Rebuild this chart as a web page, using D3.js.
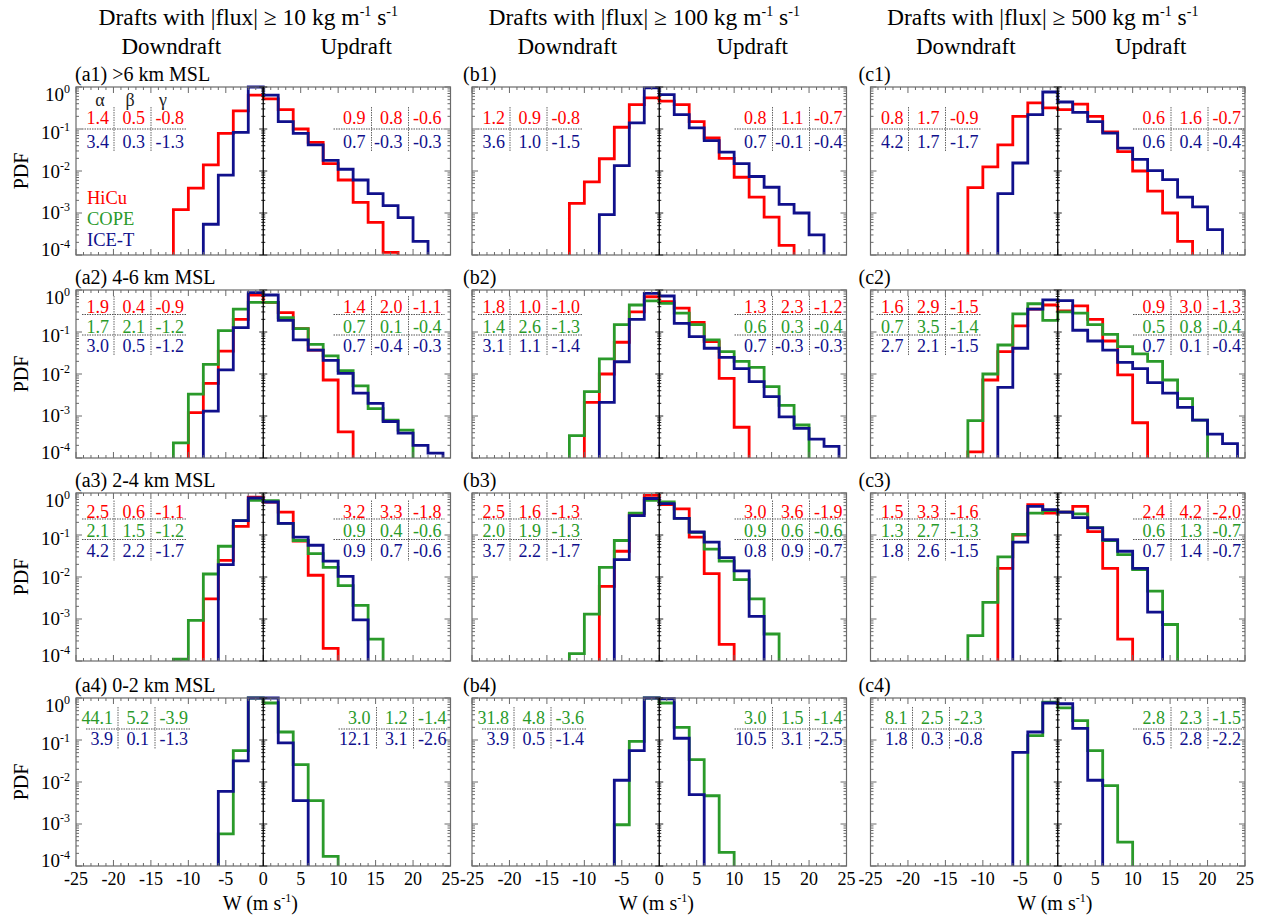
<!DOCTYPE html>
<html><head><meta charset="utf-8">
<script src="https://cdn.jsdelivr.net/npm/d3@7"></script>
<style>body{margin:0;background:#fff} svg{display:block} text{font-family:"Liberation Serif","Times New Roman",serif}</style>
</head><body><svg id="chart" width="1268" height="915" font-family="Liberation Serif, Times New Roman, serif"></svg>
<script>
// ---------------- DATA ----------------
const campaigns = ["HiCu", "COPE", "ICE-T"];
const fluxThresholds = ["10", "100", "500"];
const columnLetters = ["a", "b", "c"];
const altitudeLayers = [">6 km MSL", "4-6 km MSL", "2-4 km MSL", "0-2 km MSL"];
const xTickValues = [-25, -20, -15, -10, -5, 0, 5, 10, 15, 20, 25];
const yTickExponents = [0, -1, -2, -3, -4];
const statHeaders = ["α", "β", "γ"];
const binWidth = 2;

// PDF values. "dn": bins from the outermost downdraft bin up to [-2,0];
// "up": bins from [0,2] outward.
const a1_HiCu_dn = [1.2e-3, 3.9e-3, 1.4e-2, 7.9e-2, 0.27, 0.64];
const a1_HiCu_up = [0.52, 0.29, 0.10, 0.048, 0.015, 0.0061, 0.0018, 6e-4, 1.15e-4];
const a1_ICET_dn = [5.4e-4, 8e-3, 0.083, 1.0];
const a1_ICET_up = [0.64, 0.15, 0.079, 0.042, 0.018, 0.011, 0.0061, 0.0029, 0.0015, 7.8e-4, 2.1e-4];

const b1_HiCu_dn = [1.7e-3, 5.5e-3, 0.0196, 0.11, 0.38, 0.55];
const b1_HiCu_up = [0.46, 0.38, 0.15, 0.061, 0.020, 0.0071, 0.0024, 8e-4, 1.7e-4];
const b1_ICET_dn = [9.1e-4, 0.0134, 0.14, 0.95];
const b1_ICET_up = [0.66, 0.22, 0.106, 0.053, 0.028, 0.015, 0.0074, 0.0041, 0.0016, 0.001, 3e-4];

const c1_HiCu_dn = [4e-3, 0.0125, 0.042, 0.20, 0.42, 0.32];
const c1_HiCu_up = [0.29, 0.39, 0.20, 0.085, 0.029, 0.010, 0.0033, 0.001, 2.1e-4];
const c1_ICET_dn = [2.9e-3, 0.0155, 0.22, 0.76];
const c1_ICET_up = [0.44, 0.25, 0.15, 0.080, 0.035, 0.019, 0.0102, 0.0062, 0.0024, 0.0014, 4e-4];

const a2_HiCu_dn = [1.2e-3, 6e-3, 0.035, 0.20, 0.76];
const a2_HiCu_up = [0.51, 0.29, 0.12, 0.037, 0.0072, 4.2e-4];
const a2_COPE_dn = [2.3e-4, 3.3e-3, 0.017, 0.108, 0.35, 0.51];
const a2_COPE_up = [0.51, 0.22, 0.12, 0.051, 0.027, 0.012, 0.0052, 0.0015, 8e-4, 4.6e-4];
const a2_ICET_dn = [1.3e-3, 0.0125, 0.127, 0.87];
const a2_ICET_up = [0.76, 0.19, 0.065, 0.037, 0.021, 0.0104, 0.0035, 0.002, 7.4e-4, 3.9e-4, 2e-4, 1.3e-4];

const b2_HiCu_dn = [2.1e-3, 0.01, 0.057, 0.30, 0.69];
const b2_HiCu_up = [0.53, 0.37, 0.17, 0.059, 0.0079, 5.4e-4];
const b2_COPE_dn = [3.4e-4, 3.8e-3, 0.023, 0.15, 0.44, 0.55];
const b2_COPE_up = [0.48, 0.28, 0.15, 0.065, 0.034, 0.020, 0.0144, 5e-3, 1.8e-3, 6.1e-4];
const b2_ICET_dn = [2.1e-3, 0.0196, 0.20, 0.83];
const b2_ICET_up = [0.72, 0.16, 0.078, 0.041, 0.025, 0.0135, 0.0066, 0.0029, 9.5e-4, 5.1e-4, 2.8e-4, 1.9e-4];

const c2_HiCu_dn = [1.4e-4, 7.2e-3, 0.034, 0.14, 0.35, 0.44];
const c2_HiCu_up = [0.32, 0.42, 0.20, 0.061, 0.0095, 6.9e-4];
const c2_COPE_dn = [7.8e-4, 0.01, 0.049, 0.27, 0.47, 0.19];
const c2_COPE_up = [0.30, 0.28, 0.15, 0.088, 0.045, 0.030, 0.020, 0.0072, 0.0026, 8e-4];
const c2_ICET_dn = [4.8e-3, 0.041, 0.35, 0.58];
const c2_ICET_up = [0.56, 0.11, 0.061, 0.037, 0.019, 0.0135, 0.0062, 0.0035, 0.0016, 8e-4, 3.7e-4, 2.2e-4];

const a3_HiCu_dn = [3e-3, 0.025, 0.16, 0.80];
const a3_HiCu_up = [0.61, 0.35, 0.072, 0.011, 2e-4];
const a3_COPE_dn = [1.1e-4, 9.3e-4, 0.0118, 0.054, 0.22, 0.67];
const a3_COPE_up = [0.66, 0.19, 0.074, 0.036, 0.017, 0.0062, 0.0021, 3.3e-4];
const a3_ICET_dn = [0.0197, 0.22, 0.76];
const a3_ICET_up = [0.61, 0.19, 0.089, 0.057, 0.024, 0.0104, 9.5e-4];

const b3_HiCu_dn = [6e-3, 0.041, 0.32, 0.88];
const b3_HiCu_up = [0.53, 0.42, 0.089, 0.012, 2.5e-4];
const b3_COPE_dn = [1.5e-4, 1.3e-3, 0.017, 0.074, 0.33, 0.67];
const b3_COPE_up = [0.61, 0.25, 0.115, 0.046, 0.024, 0.0087, 0.003, 4.4e-4];
const b3_ICET_dn = [0.026, 0.29, 0.74];
const b3_ICET_up = [0.56, 0.25, 0.118, 0.068, 0.029, 0.014, 1.15e-3];

const c3_HiCu_dn = [0.016, 0.10, 0.53, 0.33];
const c3_HiCu_up = [0.35, 0.48, 0.12, 0.016, 3.3e-4];
const c3_COPE_dn = [4e-4, 2.5e-3, 0.030, 0.104, 0.33, 0.38];
const c3_COPE_up = [0.35, 0.32, 0.15, 0.074, 0.034, 0.015, 4.6e-3, 7.4e-4];
const c3_ICET_dn = [0.068, 0.48, 0.40];
const c3_ICET_up = [0.35, 0.26, 0.148, 0.077, 0.041, 0.016, 1.45e-3];

const a4_COPE_dn = [5.8e-4, 0.056, 1.0];
const a4_COPE_up = [0.76, 0.155, 0.026, 3.6e-3, 1.7e-4];
const a4_ICET_dn = [6e-3, 0.032, 1.0];
const a4_ICET_up = [1.0, 0.085, 3.6e-3];

const b4_COPE_dn = [9.6e-4, 0.093, 1.0];
const b4_COPE_up = [0.76, 0.20, 0.034, 4.7e-3, 2.1e-4];
const b4_ICET_dn = [0.011, 0.056, 1.0];
const b4_ICET_up = [0.96, 0.11, 5e-3];

const c4_COPE_dn = [0.127, 0.80];
const c4_COPE_up = [0.58, 0.29, 0.056, 8.2e-3, 3.7e-4];
const c4_ICET_dn = [0.051, 0.155, 0.76];
const c4_ICET_up = [0.73, 0.19, 0.011];

// Fit statistics (alpha, beta, gamma) per campaign: [HiCu, COPE, ICE-T]
const a1_stats_dn = [["1.4","0.5","-0.8"], null, ["3.4","0.3","-1.3"]];
const a1_stats_up = [["0.9","0.8","-0.6"], null, ["0.7","-0.3","-0.3"]];
const b1_stats_dn = [["1.2","0.9","-0.8"], null, ["3.6","1.0","-1.5"]];
const b1_stats_up = [["0.8","1.1","-0.7"], null, ["0.7","-0.1","-0.4"]];
const c1_stats_dn = [["0.8","1.7","-0.9"], null, ["4.2","1.7","-1.7"]];
const c1_stats_up = [["0.6","1.6","-0.7"], null, ["0.6","0.4","-0.4"]];
const a2_stats_dn = [["1.9","0.4","-0.9"], ["1.7","2.1","-1.2"], ["3.0","0.5","-1.2"]];
const a2_stats_up = [["1.4","2.0","-1.1"], ["0.7","0.1","-0.4"], ["0.7","-0.4","-0.3"]];
const b2_stats_dn = [["1.8","1.0","-1.0"], ["1.4","2.6","-1.3"], ["3.1","1.1","-1.4"]];
const b2_stats_up = [["1.3","2.3","-1.2"], ["0.6","0.3","-0.4"], ["0.7","-0.3","-0.3"]];
const c2_stats_dn = [["1.6","2.9","-1.5"], ["0.7","3.5","-1.4"], ["2.7","2.1","-1.5"]];
const c2_stats_up = [["0.9","3.0","-1.3"], ["0.5","0.8","-0.4"], ["0.7","0.1","-0.4"]];
const a3_stats_dn = [["2.5","0.6","-1.1"], ["2.1","1.5","-1.2"], ["4.2","2.2","-1.7"]];
const a3_stats_up = [["3.2","3.3","-1.8"], ["0.9","0.4","-0.6"], ["0.9","0.7","-0.6"]];
const b3_stats_dn = [["2.5","1.6","-1.3"], ["2.0","1.9","-1.3"], ["3.7","2.2","-1.7"]];
const b3_stats_up = [["3.0","3.6","-1.9"], ["0.9","0.6","-0.6"], ["0.8","0.9","-0.7"]];
const c3_stats_dn = [["1.5","3.3","-1.6"], ["1.3","2.7","-1.3"], ["1.8","2.6","-1.5"]];
const c3_stats_up = [["2.4","4.2","-2.0"], ["0.6","1.3","-0.7"], ["0.7","1.4","-0.7"]];
const a4_stats_dn = [null, ["44.1","5.2","-3.9"], ["3.9","0.1","-1.3"]];
const a4_stats_up = [null, ["3.0","1.2","-1.4"], ["12.1","3.1","-2.6"]];
const b4_stats_dn = [null, ["31.8","4.8","-3.6"], ["3.9","0.5","-1.4"]];
const b4_stats_up = [null, ["3.0","1.5","-1.4"], ["10.5","3.1","-2.5"]];
const c4_stats_dn = [null, ["8.1","2.5","-2.3"], ["1.8","0.3","-0.8"]];
const c4_stats_up = [null, ["2.8","2.3","-1.5"], ["6.5","2.8","-2.2"]];

// assemble per-panel structures from the named arrays
const pdfByPanel = {
  a1: [[a1_HiCu_dn, a1_HiCu_up], null, [a1_ICET_dn, a1_ICET_up]],
  b1: [[b1_HiCu_dn, b1_HiCu_up], null, [b1_ICET_dn, b1_ICET_up]],
  c1: [[c1_HiCu_dn, c1_HiCu_up], null, [c1_ICET_dn, c1_ICET_up]],
  a2: [[a2_HiCu_dn, a2_HiCu_up], [a2_COPE_dn, a2_COPE_up], [a2_ICET_dn, a2_ICET_up]],
  b2: [[b2_HiCu_dn, b2_HiCu_up], [b2_COPE_dn, b2_COPE_up], [b2_ICET_dn, b2_ICET_up]],
  c2: [[c2_HiCu_dn, c2_HiCu_up], [c2_COPE_dn, c2_COPE_up], [c2_ICET_dn, c2_ICET_up]],
  a3: [[a3_HiCu_dn, a3_HiCu_up], [a3_COPE_dn, a3_COPE_up], [a3_ICET_dn, a3_ICET_up]],
  b3: [[b3_HiCu_dn, b3_HiCu_up], [b3_COPE_dn, b3_COPE_up], [b3_ICET_dn, b3_ICET_up]],
  c3: [[c3_HiCu_dn, c3_HiCu_up], [c3_COPE_dn, c3_COPE_up], [c3_ICET_dn, c3_ICET_up]],
  a4: [null, [a4_COPE_dn, a4_COPE_up], [a4_ICET_dn, a4_ICET_up]],
  b4: [null, [b4_COPE_dn, b4_COPE_up], [b4_ICET_dn, b4_ICET_up]],
  c4: [null, [c4_COPE_dn, c4_COPE_up], [c4_ICET_dn, c4_ICET_up]]
};
const statsByPanel = {
  a1: [a1_stats_dn, a1_stats_up], b1: [b1_stats_dn, b1_stats_up], c1: [c1_stats_dn, c1_stats_up],
  a2: [a2_stats_dn, a2_stats_up], b2: [b2_stats_dn, b2_stats_up], c2: [c2_stats_dn, c2_stats_up],
  a3: [a3_stats_dn, a3_stats_up], b3: [b3_stats_dn, b3_stats_up], c3: [c3_stats_dn, c3_stats_up],
  a4: [a4_stats_dn, a4_stats_up], b4: [b4_stats_dn, b4_stats_up], c4: [c4_stats_dn, c4_stats_up]
};

// ---------------- LAYOUT / STYLE ----------------
const colors = ["#ff0000", "#2a9a2a", "#10108c"];
const panelLefts = [76, 472, 870.5];
const panelW = 374.5;
const panelTops = [87, 290, 493, 698];
const panelH = 168;
const frameColor = "#6a6a6a";
const tableCenters = [[31, 55], [17, 36.5, 56], [18.5, 38, 58], [20, 41]];
const tableRules = [[42], [24.5, 45], [26, 46.5], [31]];

const svg = d3.select("#chart");
const defs = svg.append("defs");

function supText(sel, parts, baseSize, supSize) {
  parts.forEach(([s, sup], i) => {
    const prevSup = i > 0 && parts[i - 1][1];
    const t = sel.append("tspan").text(s);
    if (sup) t.attr("font-size", supSize).attr("dy", -baseSize * 0.4);
    else if (prevSup) t.attr("dy", baseSize * 0.4);
  });
}

columnLetters.forEach((letter, ci) => {
  const L = panelLefts[ci], R = L + panelW;
  const x = d3.scaleLinear().domain([-25, 25]).range([L, R]);
  const x0 = x(0);

  // column titles
  const title = svg.append("text").attr("x", x0 - 15).attr("y", 25)
    .attr("text-anchor", "middle").attr("font-size", 23.5);
  supText(title, [["Drafts with |flux| ≥ " + fluxThresholds[ci] + " kg m", false], ["-1", true], [" s", false], ["-1", true]], 23.5, 14);
  svg.append("text").attr("x", x0 - 92).attr("y", 54).attr("text-anchor", "middle")
    .attr("font-size", 23).text("Downdraft");
  svg.append("text").attr("x", x0 + 93).attr("y", 54).attr("text-anchor", "middle")
    .attr("font-size", 23).text("Updraft");

  altitudeLayers.forEach((layer, ri) => {
    const T = panelTops[ri], B = T + panelH;
    const id = letter + (ri + 1);
    const y = d3.scaleLog().domain([1e-4, 1]).range([B, T]).clamp(true);
    const g = svg.append("g");

    defs.append("clipPath").attr("id", "clip-" + id).append("rect")
      .attr("x", L - 2).attr("y", T - 2).attr("width", panelW + 4).attr("height", panelH + 2);

    // panel label
    svg.append("text").attr("x", L - (ci === 0 ? 1 : ci === 1 ? 9 : 12)).attr("y", T - 6)
      .attr("font-size", 20)
      .text("(" + id + ")" + (ci === 0 ? " " + layer : ""));

    // histograms
    const hg = g.append("g").attr("clip-path", "url(#clip-" + id + ")");
    const line = d3.line();
    pdfByPanel[id].forEach((pair, k) => {
      if (!pair) return;
      const [dn, up] = pair;
      const pts = [];
      const start = -binWidth * dn.length;
      pts.push([x(start), B + 3]);
      dn.forEach((v, i) => {
        const e = start + i * binWidth;
        pts.push([x(e), y(v)], [x(e + binWidth), y(v)]);
      });
      up.forEach((v, i) => {
        const e = i * binWidth;
        pts.push([x(e), y(v)], [x(e + binWidth), y(v)]);
      });
      pts.push([x(up.length * binWidth), B + 3]);
      hg.append("path").attr("d", line(pts)).attr("fill", "none")
        .attr("stroke", colors[k]).attr("stroke-width", 2.8)
        .attr("stroke-linejoin", "miter").attr("stroke-linecap", "butt");
    });

    // frame
    g.append("rect").attr("x", L).attr("y", T).attr("width", panelW).attr("height", panelH)
      .attr("fill", "none").attr("stroke", frameColor).attr("stroke-width", 1.2);

    // x ticks (top & bottom)
    d3.range(-25, 26, 1).forEach(v => {
      const len = v % 5 === 0 ? 6 : 3;
      g.append("line").attr("x1", x(v)).attr("x2", x(v)).attr("y1", B).attr("y2", B - len)
        .attr("stroke", frameColor).attr("stroke-width", 1);
      g.append("line").attr("x1", x(v)).attr("x2", x(v)).attr("y1", T).attr("y2", T + len)
        .attr("stroke", frameColor).attr("stroke-width", 1);
    });
    // y ticks (left, right, center line)
    const yMinor = [];
    for (let e = -4; e < 0; e++) for (let m = 2; m <= 9; m++) yMinor.push(m * Math.pow(10, e));
    const yMajor = yTickExponents.map(e => Math.pow(10, e));
    const drawY = (vals, len, lenC) => vals.forEach(v => {
      const yy = y(v);
      g.append("line").attr("x1", L).attr("x2", L + len).attr("y1", yy).attr("y2", yy).attr("stroke", frameColor);
      g.append("line").attr("x1", R).attr("x2", R - len).attr("y1", yy).attr("y2", yy).attr("stroke", frameColor);
      g.append("line").attr("x1", x0 - lenC).attr("x2", x0 + lenC).attr("y1", yy).attr("y2", yy).attr("stroke", "#222");
    });
    drawY(yMajor, 6, 4);
    drawY(yMinor, 3, 2);
    g.append("line").attr("x1", x0).attr("x2", x0).attr("y1", T).attr("y2", B)
      .attr("stroke", "#000").attr("stroke-width", 1.3);

    // y tick labels (column a only)
    if (ci === 0) {
      const off = [8, 4, 1, 0, -5];
      yTickExponents.forEach((e, i) => {
        const t = svg.append("text").attr("x", L - 6).attr("y", y(Math.pow(10, e)) + off[i] + 6)
          .attr("text-anchor", "end").attr("font-size", 19);
        supText(t, [["10", false], [String(e), true]], 19, 12);
      });
      svg.append("text").attr("transform", `translate(28,${T + panelH / 2}) rotate(-90)`)
        .attr("text-anchor", "middle").attr("font-size", 20).text("PDF");
    }

    // x tick labels (bottom row)
    if (ri === 3) {
      xTickValues.forEach(v => {
        svg.append("text").attr("x", x(v)).attr("y", 885).attr("text-anchor", "middle")
          .attr("font-size", 18).text(v);
      });
      const xl = svg.append("text").attr("x", x0 - 3).attr("y", 910).attr("text-anchor", "middle")
        .attr("font-size", 20);
      supText(xl, [["W (m s", false], ["-1", true], [")", false]], 20, 12);
    }

    // legend (a1)
    if (id === "a1") {
      campaigns.forEach((c, k) => {
        svg.append("text").attr("x", 87).attr("y", 204 + 21 * k).attr("font-size", 18.5)
          .attr("fill", colors[k]).text(c);
      });
    }

    // stat tables
    const [sDn, sUp] = statsByPanel[id];
    const centers = tableCenters[ri], rules = tableRules[ri];
    const drawTable = (stats, side) => {
      const present = stats.map((s, k) => s ? k : -1).filter(k => k >= 0);
      let colRights, seps, ruleX;
      if (side === "dn") {
        const sh = ri === 3 ? 4 : 0;
        colRights = [33, 69, 108].map(v => L + v + sh);
        seps = [38, 75].map(v => L + v + sh);
        ruleX = [L + 6 + sh, L + 110 + sh];
      } else {
        const sh = (ci === 0 && ri < 3) ? -5 : 0;
        colRights = [-80, -43, -4].map(v => R + v + sh);
        seps = [-74, -37].map(v => R + v + sh);
        ruleX = [R - 112 + sh, R - 1 + sh];
      }
      present.forEach((k, j) => {
        const cy = T + centers[j];
        stats[k].forEach((s, m) => {
          g.append("text").attr("x", colRights[m]).attr("y", cy + 6).attr("text-anchor", "end")
            .attr("font-size", 18).attr("fill", colors[k]).text(s);
        });
      });
      rules.forEach(r => {
        g.append("line").attr("x1", ruleX[0]).attr("x2", ruleX[1]).attr("y1", T + r).attr("y2", T + r)
          .attr("stroke", "#555").attr("stroke-width", 1.2).attr("stroke-dasharray", "1.5,1");
      });
      const y1 = T + centers[0] - 11, y2 = T + centers[present.length - 1] + 10;
      seps.forEach(sx => {
        g.append("line").attr("x1", sx).attr("x2", sx).attr("y1", y1).attr("y2", y2)
          .attr("stroke", "#666").attr("stroke-width", 1).attr("stroke-dasharray", "1.5,1");
      });
      if (id === "a1" && side === "dn") {
        const hc = [24, 54, 87];
        statHeaders.forEach((h, m) => {
          g.append("text").attr("x", L + hc[m]).attr("y", T + 19).attr("text-anchor", "middle")
            .attr("font-size", 18).attr("fill", "#222").text(h);
        });
      }
    };
    drawTable(sDn, "dn");
    drawTable(sUp, "up");
  });
});
</script></body></html>
